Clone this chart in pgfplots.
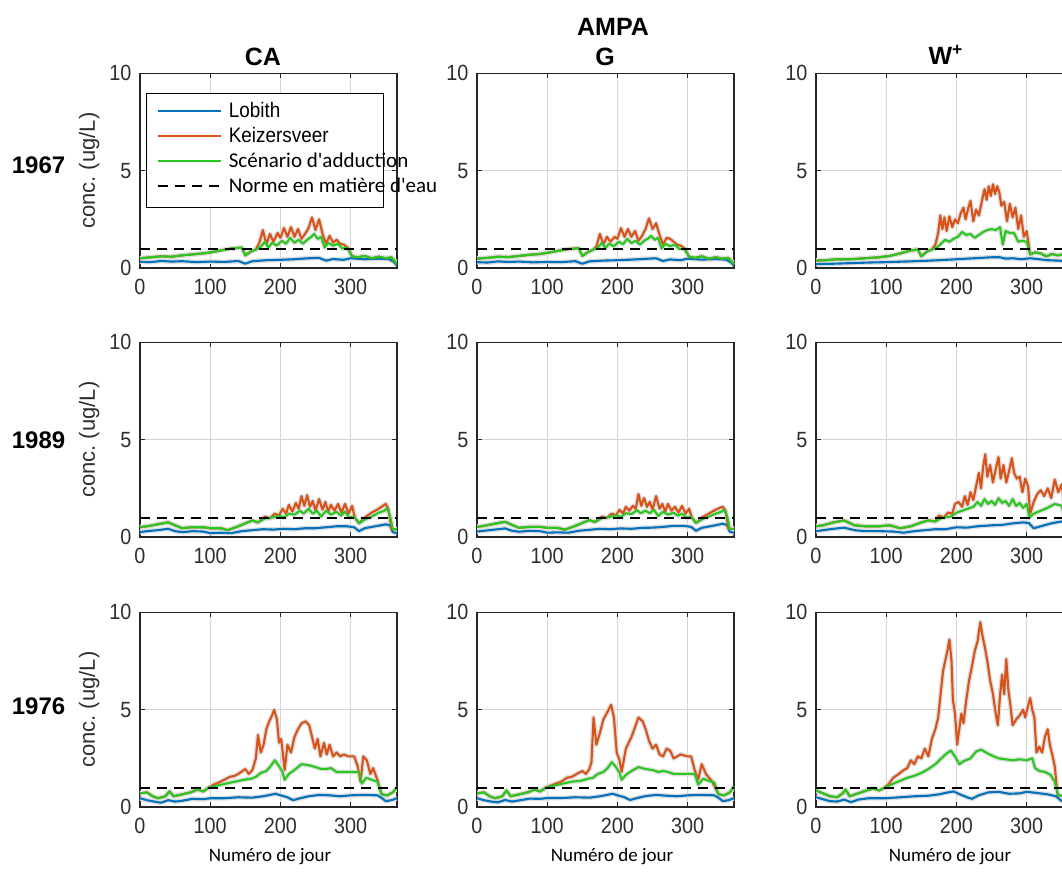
\documentclass[border=0pt]{standalone}
\usepackage{fontspec}
\setmainfont{Liberation Sans}
\newfontfamily\calibri{Carlito}
\newfontfamily\narrow[FakeStretch=0.9]{Liberation Sans}
\usepackage{pgfplots}
\usepackage{pgfplotstable}
\pgfplotsset{compat=1.18}

\definecolor{lob}{RGB}{0,114,189}
\definecolor{kei}{RGB}{217,83,25}
\definecolor{scn}{RGB}{40,200,30}

% ---------- 1967 ----------
\pgfplotstableread{
0 0.32
15 0.30
30 0.36
45 0.33
60 0.35
80 0.30
100 0.33
120 0.31
140 0.36
150 0.22
160 0.35
180 0.40
200 0.42
220 0.45
240 0.50
255 0.52
265 0.38
275 0.46
290 0.42
300 0.50
320 0.45
340 0.48
355 0.45
362 0.30
366 0.12
}\LobCAa
\pgfplotstableread{
0 0.50
15 0.55
30 0.60
45 0.58
60 0.65
75 0.70
90 0.75
100 0.80
115 0.90
130 1.00
145 1.05
150 0.65
158 0.85
165 0.95
172 1.10
178 1.35
183 1.05
188 1.30
195 1.15
202 1.40
208 1.25
214 1.55
220 1.30
226 1.45
232 1.25
238 1.45
244 1.60
248 1.75
253 1.50
258 1.60
263 1.05
268 1.30
275 1.15
282 1.25
288 1.00
295 1.05
302 0.60
310 0.55
320 0.62
330 0.50
340 0.58
350 0.50
358 0.55
366 0.20
}\ScnCAa
\pgfplotstableread{
0 0.50
15 0.55
30 0.60
45 0.58
60 0.65
75 0.70
90 0.75
100 0.80
115 0.90
130 1.00
145 1.05
150 0.65
158 0.85
165 0.95
170 1.30
175 1.95
180 1.20
185 1.75
190 1.35
196 1.80
200 1.55
205 2.05
210 1.60
215 2.10
220 1.60
225 2.00
230 1.50
235 1.75
240 2.05
245 2.60
250 1.95
255 2.50
260 1.75
265 1.25
270 1.65
275 1.30
280 1.45
285 1.25
290 1.20
296 1.05
302 0.60
310 0.55
320 0.62
330 0.50
340 0.58
350 0.50
358 0.55
366 0.20
}\KeiCAa
\pgfplotstableread{
0 0.30
15 0.28
30 0.34
45 0.31
60 0.33
80 0.29
100 0.31
120 0.30
140 0.35
150 0.22
160 0.34
180 0.38
200 0.40
220 0.43
240 0.47
255 0.50
265 0.36
275 0.44
290 0.40
300 0.48
320 0.43
340 0.46
355 0.43
362 0.28
366 0.12
}\LobGa
\pgfplotstableread{
0 0.48
15 0.52
30 0.58
45 0.56
60 0.62
75 0.68
90 0.72
100 0.78
115 0.88
130 0.97
145 1.02
150 0.62
158 0.82
165 0.93
172 1.05
178 1.30
183 1.02
188 1.25
195 1.12
202 1.35
208 1.22
214 1.50
220 1.28
226 1.40
232 1.20
238 1.40
244 1.52
248 1.65
253 1.45
258 1.55
263 1.00
268 1.25
275 1.12
282 1.20
288 0.98
295 1.00
302 0.58
310 0.52
320 0.60
330 0.48
340 0.55
350 0.48
358 0.52
366 0.20
}\ScnGa
\pgfplotstableread{
0 0.48
15 0.52
30 0.58
45 0.56
60 0.62
75 0.68
90 0.72
100 0.78
115 0.88
130 0.97
145 1.02
150 0.62
158 0.82
165 0.93
170 1.10
175 1.75
180 1.20
185 1.60
190 1.35
196 1.60
200 1.50
205 2.05
210 1.60
215 2.00
220 1.60
225 1.90
230 1.40
235 1.65
240 2.00
245 2.55
250 2.00
255 2.30
260 1.70
265 1.20
270 1.55
275 1.50
280 1.35
285 1.20
290 1.15
296 1.00
302 0.58
310 0.52
320 0.60
330 0.48
340 0.55
350 0.48
358 0.52
366 0.20
}\KeiGa
\pgfplotstableread{
0 0.20
25 0.22
50 0.25
75 0.28
100 0.30
125 0.33
150 0.36
175 0.40
200 0.45
225 0.50
250 0.55
262 0.55
270 0.48
280 0.50
292 0.45
305 0.50
318 0.45
330 0.40
345 0.38
356 0.35
366 0.30
}\LobWa
\pgfplotstableread{
0 0.38
15 0.40
30 0.45
50 0.45
70 0.50
90 0.55
105 0.62
120 0.75
135 0.90
145 0.95
150 0.60
158 0.85
165 0.95
172 1.05
178 1.25
184 1.45
190 1.35
196 1.50
202 1.60
208 1.85
214 1.70
220 1.75
226 1.55
232 1.70
238 1.85
244 1.95
250 2.00
256 1.95
262 2.10
266 1.20
270 1.90
276 1.80
282 1.80
288 1.35
294 1.40
300 1.35
305 0.70
312 0.80
320 0.75
328 0.60
336 0.72
344 0.65
352 0.70
360 0.55
366 0.60
}\ScnWa
\pgfplotstableread{
0 0.38
15 0.40
30 0.45
50 0.45
70 0.50
90 0.55
105 0.62
120 0.75
135 0.90
145 0.95
150 0.60
158 0.85
165 0.95
170 1.20
174 1.80
177 2.70
180 2.00
183 2.60
186 1.90
190 2.65
194 2.10
198 2.50
202 2.30
206 2.80
210 3.10
213 2.50
217 3.10
220 3.45
224 2.40
228 3.00
232 2.70
236 3.40
240 4.05
243 3.50
246 4.20
249 3.70
252 4.30
255 3.80
258 4.20
261 3.90
264 3.20
268 3.40
272 2.40
276 3.30
280 2.60
284 3.10
288 2.00
292 2.70
296 1.60
300 1.90
305 0.70
312 0.80
320 0.75
328 0.60
336 0.72
344 0.65
352 0.70
360 0.55
366 0.60
}\KeiWa

% ---------- 1989 ----------
\pgfplotstableread{
0 0.25
10 0.30
25 0.35
40 0.42
50 0.30
60 0.25
75 0.30
90 0.28
100 0.20
115 0.22
130 0.20
145 0.30
160 0.35
175 0.40
190 0.38
205 0.42
220 0.40
235 0.45
250 0.45
265 0.50
280 0.55
295 0.55
305 0.50
312 0.30
320 0.45
335 0.55
350 0.65
356 0.60
360 0.25
366 0.20
}\LobCAb
\pgfplotstableread{
0 0.50
10 0.55
25 0.65
40 0.75
50 0.60
60 0.45
75 0.50
90 0.50
100 0.45
115 0.45
125 0.35
140 0.55
150 0.70
160 0.85
168 0.75
178 0.95
188 1.00
198 1.10
205 1.00
212 1.20
220 1.15
228 1.35
233 1.20
240 1.45
246 1.20
252 1.35
258 1.05
265 1.35
272 1.15
280 1.30
286 1.10
292 1.30
298 1.00
305 1.05
312 0.70
320 0.90
330 1.05
340 1.25
348 1.35
352 1.50
356 1.10
360 0.40
366 0.40
}\ScnCAb
\pgfplotstableread{
0 0.50
10 0.55
25 0.65
40 0.75
50 0.60
60 0.45
75 0.50
90 0.50
100 0.45
115 0.45
125 0.35
140 0.55
150 0.70
160 0.85
168 0.75
178 1.05
185 0.95
192 1.20
198 1.10
203 1.45
208 1.20
212 1.65
217 1.30
222 1.75
226 1.45
230 2.10
234 1.60
238 2.15
242 1.55
246 1.85
250 1.35
255 1.95
260 1.40
264 1.80
268 1.30
272 1.65
277 1.35
282 1.70
287 1.25
292 1.70
297 1.20
302 1.60
306 1.00
312 0.70
320 1.00
330 1.25
340 1.45
346 1.60
350 1.70
354 1.40
358 0.40
366 0.40
}\KeiCAb
\pgfplotstableread{
0 0.28
10 0.32
25 0.38
40 0.44
50 0.32
60 0.27
75 0.32
90 0.30
100 0.22
115 0.24
130 0.22
145 0.32
160 0.37
175 0.42
190 0.40
205 0.44
220 0.42
235 0.47
250 0.48
265 0.52
280 0.57
295 0.57
305 0.52
312 0.32
320 0.47
335 0.57
350 0.68
356 0.62
360 0.27
366 0.22
}\LobGb
\pgfplotstableread{
0 0.52
10 0.57
25 0.68
40 0.78
50 0.62
60 0.47
75 0.52
90 0.52
100 0.47
115 0.47
125 0.37
140 0.57
150 0.72
160 0.87
168 0.77
178 0.97
188 1.02
198 1.12
205 1.02
212 1.22
220 1.18
228 1.38
233 1.22
240 1.35
246 1.22
252 1.40
258 1.08
265 1.30
272 1.15
280 1.25
286 1.10
292 1.20
298 1.00
305 1.05
312 0.72
320 0.90
330 1.05
340 1.20
348 1.30
352 1.40
356 1.10
360 0.42
366 0.42
}\ScnGb
\pgfplotstableread{
0 0.52
10 0.57
25 0.68
40 0.78
50 0.62
60 0.47
75 0.52
90 0.52
100 0.47
115 0.47
125 0.37
140 0.57
150 0.72
160 0.87
168 0.77
178 1.05
185 0.98
192 1.20
198 1.12
203 1.40
208 1.20
212 1.55
217 1.35
222 1.60
226 1.45
230 2.20
234 1.60
238 2.00
242 1.55
246 1.80
250 1.40
255 2.10
260 1.45
264 1.70
268 1.30
272 1.70
277 1.35
282 1.55
287 1.25
292 1.60
297 1.20
302 1.45
306 1.00
312 0.72
320 1.00
330 1.20
340 1.40
346 1.50
350 1.55
354 1.35
358 0.42
366 0.42
}\KeiGb
\pgfplotstableread{
0 0.30
20 0.40
40 0.48
55 0.35
70 0.30
90 0.30
110 0.28
125 0.22
140 0.30
155 0.35
170 0.40
185 0.40
200 0.50
215 0.48
230 0.55
250 0.60
265 0.62
280 0.70
295 0.75
303 0.72
310 0.45
320 0.55
335 0.70
350 0.80
360 0.70
366 0.45
}\LobWb
\pgfplotstableread{
0 0.55
10 0.60
25 0.75
40 0.85
55 0.60
70 0.55
90 0.55
105 0.60
120 0.45
135 0.55
150 0.75
160 0.85
170 0.80
180 1.00
192 1.05
200 1.25
208 1.35
216 1.45
224 1.55
230 1.80
235 1.60
240 1.95
245 1.70
250 1.85
255 1.65
260 2.00
265 1.75
270 1.85
275 1.60
280 1.95
285 1.60
290 1.75
295 1.50
300 1.70
304 1.00
310 1.20
320 1.35
330 1.50
340 1.70
350 1.60
356 0.65
366 0.60
}\ScnWb
\pgfplotstableread{
0 0.55
10 0.60
25 0.75
40 0.85
55 0.60
70 0.55
90 0.55
105 0.60
120 0.45
135 0.55
150 0.75
160 0.85
170 0.80
175 1.10
182 1.00
188 1.25
194 1.20
198 1.70
203 1.80
208 1.55
212 2.10
216 1.65
220 2.30
224 1.90
228 2.60
232 3.30
235 2.50
238 3.60
241 4.25
244 3.10
248 3.70
252 2.80
256 3.50
260 4.10
263 3.00
267 3.70
271 2.80
275 3.40
279 4.05
282 3.30
286 3.00
290 3.10
294 2.30
298 3.00
302 2.60
305 1.20
310 1.80
315 2.20
320 2.40
325 2.10
330 2.50
335 2.00
340 2.95
345 2.30
350 2.70
355 1.30
360 0.65
366 0.60
}\KeiWb

% ---------- 1976 ----------
\pgfplotstableread{
0 0.45
10 0.35
20 0.28
30 0.22
40 0.35
50 0.28
60 0.32
75 0.42
90 0.40
100 0.45
120 0.45
140 0.50
160 0.48
175 0.55
185 0.62
193 0.68
200 0.60
210 0.50
218 0.35
228 0.45
240 0.55
255 0.62
270 0.60
285 0.55
300 0.60
320 0.62
338 0.60
345 0.45
350 0.30
358 0.35
366 0.45
}\LobCAc
\pgfplotstableread{
0 0.70
10 0.75
18 0.55
26 0.45
36 0.55
42 0.80
48 0.55
60 0.65
72 0.75
82 0.90
90 0.80
98 1.00
110 1.10
122 1.20
135 1.30
148 1.40
158 1.45
165 1.55
172 1.75
180 1.85
186 2.10
192 2.40
198 2.10
203 1.80
206 1.40
212 1.70
220 1.90
230 2.20
240 2.15
250 2.05
258 1.95
265 1.95
272 2.00
280 1.80
290 1.80
300 1.80
312 1.80
316 1.20
322 1.50
330 1.40
338 1.30
344 0.65
352 0.60
360 0.75
366 1.00
}\ScnCAc
\pgfplotstableread{
0 0.70
10 0.75
18 0.55
26 0.45
36 0.55
42 0.80
48 0.55
60 0.65
72 0.75
82 0.90
90 0.80
98 1.00
105 1.15
112 1.25
120 1.40
128 1.55
135 1.60
142 1.75
150 1.95
155 1.70
160 1.90
165 2.50
168 3.70
172 2.80
176 3.20
180 4.00
184 4.40
188 4.70
191 5.00
195 4.50
198 3.30
201 3.50
203 2.90
206 1.90
210 3.20
215 2.80
220 3.60
225 4.00
230 4.30
236 4.40
241 4.20
245 3.60
249 3.00
253 3.50
257 2.60
262 3.30
266 2.70
270 3.20
275 2.60
280 2.80
285 2.60
290 2.70
297 2.60
305 2.60
310 2.10
314 1.30
318 2.60
323 2.40
328 1.70
332 2.00
338 1.40
344 0.65
352 0.60
360 0.75
366 1.00
}\KeiCAc
\pgfplotstableread{
0 0.45
10 0.35
20 0.28
30 0.24
40 0.36
50 0.28
60 0.34
75 0.43
90 0.42
100 0.46
120 0.46
140 0.50
160 0.48
175 0.55
185 0.62
193 0.68
200 0.60
210 0.50
218 0.36
228 0.46
240 0.56
255 0.62
270 0.58
285 0.55
300 0.60
320 0.62
338 0.60
345 0.45
350 0.30
358 0.35
366 0.45
}\LobGc
\pgfplotstableread{
0 0.70
10 0.75
18 0.55
26 0.45
36 0.55
42 0.85
48 0.55
60 0.65
72 0.75
82 0.90
90 0.80
98 1.00
110 1.10
122 1.20
135 1.30
148 1.35
158 1.45
165 1.50
172 1.70
180 1.80
186 2.00
192 2.30
198 2.05
203 1.75
206 1.40
212 1.65
220 1.85
230 2.05
240 1.95
250 1.90
258 1.80
265 1.85
272 1.80
280 1.70
290 1.70
300 1.70
310 1.70
315 1.15
322 1.45
330 1.35
338 1.25
344 0.65
352 0.60
360 0.75
366 1.05
}\ScnGc
\pgfplotstableread{
0 0.70
10 0.75
18 0.55
26 0.45
36 0.55
42 0.85
48 0.55
60 0.65
72 0.75
82 0.90
90 0.80
98 1.00
105 1.10
112 1.20
120 1.30
128 1.50
135 1.55
142 1.70
150 1.85
155 1.70
160 1.95
163 2.30
166 4.60
170 3.20
175 3.80
180 4.50
186 4.90
191 5.25
195 4.60
199 2.80
203 2.40
206 1.80
212 3.00
220 3.60
225 4.10
230 4.60
236 4.40
241 3.90
245 3.40
250 3.00
255 3.20
260 2.70
265 2.60
270 3.00
275 2.90
280 2.50
290 2.70
300 2.60
305 2.60
310 1.90
315 1.40
320 2.20
326 1.70
335 1.30
344 0.65
352 0.60
360 0.75
366 1.05
}\KeiGc
\pgfplotstableread{
0 0.50
10 0.40
20 0.30
30 0.28
40 0.38
50 0.25
60 0.38
75 0.45
90 0.45
100 0.45
120 0.50
140 0.55
160 0.58
175 0.65
188 0.75
196 0.80
205 0.65
215 0.50
222 0.42
232 0.60
245 0.75
260 0.78
275 0.68
290 0.70
300 0.78
315 0.72
330 0.65
342 0.55
350 0.30
360 0.25
366 0.25
}\LobWc
\pgfplotstableread{
0 0.85
10 0.70
20 0.55
30 0.50
38 0.70
42 0.90
48 0.55
60 0.70
72 0.85
82 0.95
90 0.85
98 1.00
110 1.20
120 1.35
130 1.50
140 1.60
150 1.75
160 1.95
170 2.20
180 2.55
186 2.75
192 2.90
198 2.60
204 2.20
210 2.35
220 2.50
228 2.85
235 2.95
242 2.80
250 2.65
260 2.50
270 2.45
280 2.40
290 2.45
300 2.40
308 2.50
312 2.00
318 1.85
326 1.80
334 1.65
340 1.30
345 0.60
355 0.55
366 0.60
}\ScnWc
\pgfplotstableread{
0 0.85
10 0.70
20 0.55
30 0.50
38 0.70
42 0.90
48 0.55
60 0.70
72 0.85
82 0.95
90 0.85
98 1.00
104 1.20
110 1.50
118 1.70
125 1.90
130 2.00
135 2.40
140 2.20
145 2.60
150 2.50
155 3.00
160 2.60
165 3.50
170 4.00
174 4.60
178 6.00
181 7.00
184 7.50
187 8.00
190 8.60
193 7.50
195 5.50
198 4.80
201 3.20
204 4.00
207 4.80
210 4.30
214 5.50
218 6.50
222 7.20
226 8.00
230 8.50
234 9.50
237 8.80
240 8.30
244 7.50
248 6.50
252 5.80
256 4.80
259 4.20
262 5.70
265 6.80
268 5.80
271 7.60
274 6.00
277 5.20
280 4.20
285 4.50
290 4.70
295 5.00
298 4.60
302 5.20
305 5.60
308 5.00
311 4.60
314 2.80
318 3.10
322 2.80
326 3.60
330 4.00
333 3.20
337 2.60
340 2.10
344 0.60
355 0.55
366 0.60
}\KeiWc

\pgfplotsset{
  panel/.style={
    scale only axis, width=128.5pt, height=97.3pt, anchor=south west,
    xmin=0, xmax=366, ymin=0, ymax=10,
    xtick={0,100,200,300}, ytick={0,5,10},
    grid=major, major grid style={black!17, line width=0.6pt},
    axis line style={black!85, line width=0.7pt},
    tick align=inside, major tick length=2.5pt,
    tick style={black!85, line width=0.5pt},
    ticklabel style={font=\narrow\fontsize{11}{12}\selectfont, text=black!82},
    /pgf/number format/assume math mode=true,
    xticklabel style={yshift=-1.8pt},
    yticklabel style={xshift=-0.8pt},
    legend image code/.code={\draw[##1] (0pt,1pt) -- (31.5pt,1pt); \path (34.8pt,0pt);},
  },
  halo/.style={color=black!13, line width=2.4pt, line join=round, forget plot},
  lobs/.style={color=lob, line width=1.05pt, line join=round},
  keis/.style={color=kei, line width=1.05pt, line join=round},
  scns/.style={color=scn, line width=1.05pt, line join=round},
  norms/.style={black, dash pattern=on 5pt off 3.5pt, line width=1pt},
  ylab/.style={ylabel={conc.\ (ug/L)},
    ylabel style={at={(axis description cs:-0.198,0.5)}, anchor=center,
      font=\fontsize{11}{12}\selectfont, text=black!82}},
}

% halos first, then the lines
\newcommand{\series}[3]{%
  \addplot[halo] table {#1};
  \addplot[halo] table {#2};
  \addplot[halo] table {#3};
  \addplot[lobs] table {#1};
  \addplot[keis] table {#2};
  \addplot[scns] table {#3};
  \addplot[norms] coordinates {(0,1) (366,1)};}

\newcommand{\panel}[6]{%
  \begin{axis}[panel, at={(#1,#2)}, #6]
    \series{#3}{#4}{#5}
  \end{axis}}

\begin{document}
\begin{tikzpicture}
\path[use as bounding box] (0,0) rectangle (531pt,436.5pt);

% row 1967 with legend
\begin{axis}[panel, at={(70pt,302.5pt)}, ylab,
  legend cell align=left,
  legend style={at={(rel axis cs:0.023,0.901)}, anchor=north west,
    draw=black, line width=0.6pt, fill=white,
    inner xsep=5.3pt, inner ysep=3.5pt, row sep=0pt,
    nodes={inner sep=0pt, text height=8.5pt, text depth=4pt}}]
  \series{\LobCAa}{\KeiCAa}{\ScnCAa}
  \legend{\makebox[72pt][l]{\narrow\fontsize{10.5}{12}\selectfont Lobith},
    \makebox[72pt][l]{\narrow\fontsize{10.5}{12}\selectfont Keizersveer},
    \makebox[72pt][l]{\calibri\fontsize{10.5}{12}\selectfont Scénario d'adduction},
    \makebox[72pt][l]{\calibri\fontsize{10.5}{12}\selectfont Norme en matière d'eau}}
\end{axis}
\panel{238.5pt}{302.5pt}{\LobGa}{\KeiGa}{\ScnGa}{}
\panel{408pt}{302.5pt}{\LobWa}{\KeiWa}{\ScnWa}{}

\panel{70pt}{168pt}{\LobCAb}{\KeiCAb}{\ScnCAb}{ylab}
\panel{238.5pt}{168pt}{\LobGb}{\KeiGb}{\ScnGb}{}
\panel{408pt}{168pt}{\LobWb}{\KeiWb}{\ScnWb}{}

\panel{70pt}{33pt}{\LobCAc}{\KeiCAc}{\ScnCAc}{ylab}
\panel{238.5pt}{33pt}{\LobGc}{\KeiGc}{\ScnGc}{}
\panel{408pt}{33pt}{\LobWc}{\KeiWc}{\ScnWc}{}

% titles
\begin{scope}[font=\bfseries\fontsize{12.5}{14}\selectfont]
\node at (131.5pt,408pt) {CA};
\node at (306.5pt,423pt) {AMPA};
\node at (302.5pt,408pt) {G};
\node at (473pt,409pt) {W\textsuperscript{+}};
\end{scope}
\begin{scope}[font=\bfseries\fontsize{12}{14}\selectfont]
\node at (19.3pt,354pt) {1967};
\node at (19.3pt,216.5pt) {1989};
\node at (19.3pt,83.5pt) {1976};
\end{scope}
\begin{scope}[font=\calibri\fontsize{9.5}{11}\selectfont]
\node at (135pt,8pt) {Numéro de jour};
\node at (306pt,8pt) {Numéro de jour};
\node at (475pt,8pt) {Numéro de jour};
\end{scope}
\end{tikzpicture}
\end{document}
